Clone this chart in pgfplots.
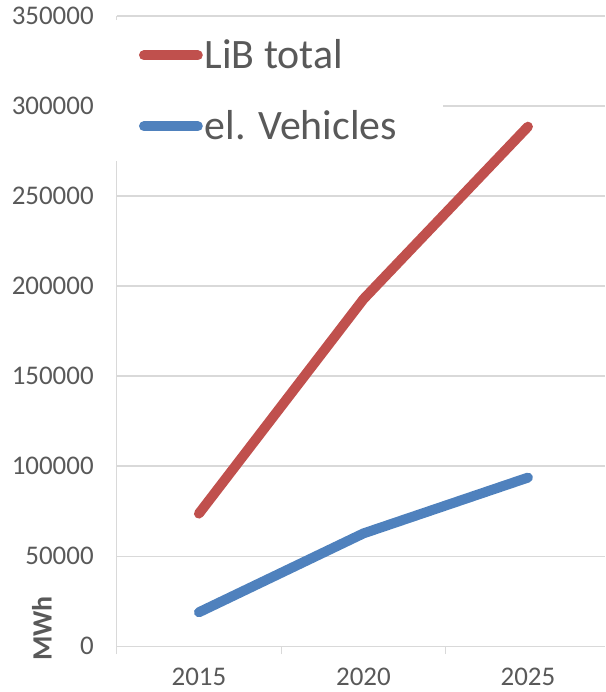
\documentclass[border=0pt]{standalone}
\usepackage{pgfplots}
\pgfplotsset{compat=1.18}
\usepackage{fontspec}
\setmainfont{Carlito}
\definecolor{gridgray}{HTML}{D9D9D9}
\definecolor{txtgray}{HTML}{595959}
\definecolor{libred}{HTML}{C0504D}
\definecolor{evblue}{HTML}{4F81BD}
\begin{document}
\begin{tikzpicture}
\begin{axis}[
  name=ax,
  scale only axis,
  width=245pt, height=316pt,
  xmin=2012.5, xmax=2027.35,
  ymin=0, ymax=350000,
  axis x line=bottom, axis y line=left,
  axis line style={-, draw=gridgray, line width=0.6pt},
  xtick={2015,2020,2025},
  minor xtick={2012.5,2017.5,2022.5},
  major tick length=0pt,
  x tick style={draw=none},
  minor x tick style={draw=gridgray, line width=0.6pt},
  minor tick length=4pt,
  tick align=outside,
  ytick={0,50000,100000,150000,200000,250000,300000,350000},
  y tick style={draw=gridgray, line width=0.6pt},
  ymajorgrids,
  grid style={draw=gridgray, line width=0.6pt},
  scaled y ticks=false,
  /pgf/number format/assume math mode=true,
  yticklabel={\pgfmathprintnumber[fixed,1000 sep={}]{\tick}},
  xticklabel={\pgfmathprintnumber[fixed,1000 sep={}]{\tick}},
  ticklabel style={font=\fontsize{13.5}{15}\selectfont, text=txtgray},
  yticklabel style={xshift=-8pt},
  xticklabel style={yshift=-10.5pt, inner ysep=0.5pt},
  ylabel={\textbf{MWh}},
  ylabel style={at={(axis description cs:-0.153,0.028)}, anchor=center, font=\fontsize{14}{16}\selectfont, text=txtgray},
  legend style={at={(axis description cs:0,1)}, anchor=north west, xshift=-1pt, yshift=-2pt, draw=none, fill=white,
    font=\fontsize{21}{25}\selectfont, text=txtgray, row sep=15.5pt, inner xsep=12pt, inner ysep=7.5pt,
    nodes={inner xsep=1pt}},
  legend cell align=left,
  legend image code/.code={\draw[#1, line cap=round] (0cm,0cm) -- (27pt,0cm);},
  clip=false,
]
\addplot[libred, line width=5pt, line cap=round, line join=round] coordinates {(2015,73600) (2020,192700) (2025,288500)};
\addlegendentry{LiB total}
\addplot[evblue, line width=5pt, line cap=round, line join=round] coordinates {(2015,18800) (2020,62600) (2025,93600)};
\addlegendentry{el. Vehicles\rule{10pt}{0pt}}
\end{axis}
\pgfresetboundingbox
\path[use as bounding box] ([shift={(-58.5pt,-23pt)}]ax.south west) rectangle ([shift={(0pt,8pt)}]ax.north east);
\end{tikzpicture}
\end{document}
